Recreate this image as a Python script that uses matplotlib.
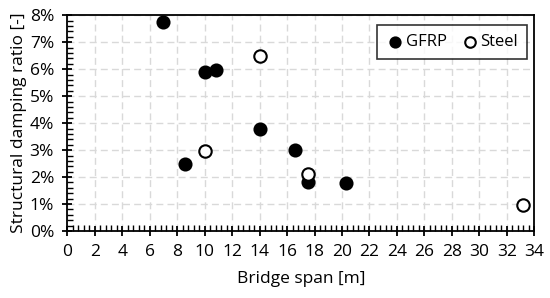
import numpy as np
import matplotlib as mpl
mpl.use('Agg')
import matplotlib.pyplot as plt
from matplotlib.ticker import MultipleLocator, PercentFormatter

plt.rcParams['font.family'] = ['Open Sans', 'DejaVu Sans']

# data
gfrp_span = [7.0, 10.0, 10.8, 14.0, 8.6, 16.6, 17.5, 20.3]
gfrp_damp = [7.75, 5.89, 5.96, 3.77, 2.50, 3.00, 1.83, 1.77]
steel_span = [14.0, 10.0, 17.5, 33.2]
steel_damp = [6.48, 2.98, 2.10, 0.96]

fig = plt.figure(figsize=(5.5, 2.98), dpi=100)
ax = fig.add_axes([0.1222, 0.2248, 0.8493, 0.7239])

ax.scatter(gfrp_span, gfrp_damp, s=80, c='black', edgecolors='black',
           linewidths=1.2, label='GFRP', zorder=3)
ax.scatter(steel_span, steel_damp, s=80, c='white', edgecolors='black',
           linewidths=1.5, label='Steel', zorder=3)

ax.set_xlim(0, 34)
ax.set_ylim(0, 8)
ax.xaxis.set_major_locator(MultipleLocator(2))
ax.xaxis.set_minor_locator(MultipleLocator(0.4))
ax.yaxis.set_major_locator(MultipleLocator(1))
ax.yaxis.set_minor_locator(MultipleLocator(0.2))
ax.yaxis.set_major_formatter(PercentFormatter(decimals=0))

ax.grid(which='major', color='#d9d9d9', linestyle=(0, (5, 3)), linewidth=1.0)
ax.set_axisbelow(True)

for s in ax.spines.values():
    s.set_linewidth(1.3)
ax.tick_params(which='major', direction='inout', length=7, width=1.3, labelsize=12.5, pad=6)
ax.tick_params(which='minor', direction='in', length=4, width=1.0)

ax.set_xlabel('Bridge span [m]', fontsize=12.5, labelpad=8)
ax.set_ylabel('Structural damping ratio [-]', fontsize=12.5, labelpad=2)

leg = ax.legend(loc='upper right', ncol=2, fontsize=12, frameon=True, fancybox=False,
                edgecolor='black', handletextpad=0.1, columnspacing=0.8,
                borderpad=0.55, handlelength=1.1, borderaxespad=0, markerscale=0.85,
                bbox_to_anchor=(0.985, 0.955))
leg.get_frame().set_linewidth(1.2)

fig.savefig('out.png', dpi=100)
